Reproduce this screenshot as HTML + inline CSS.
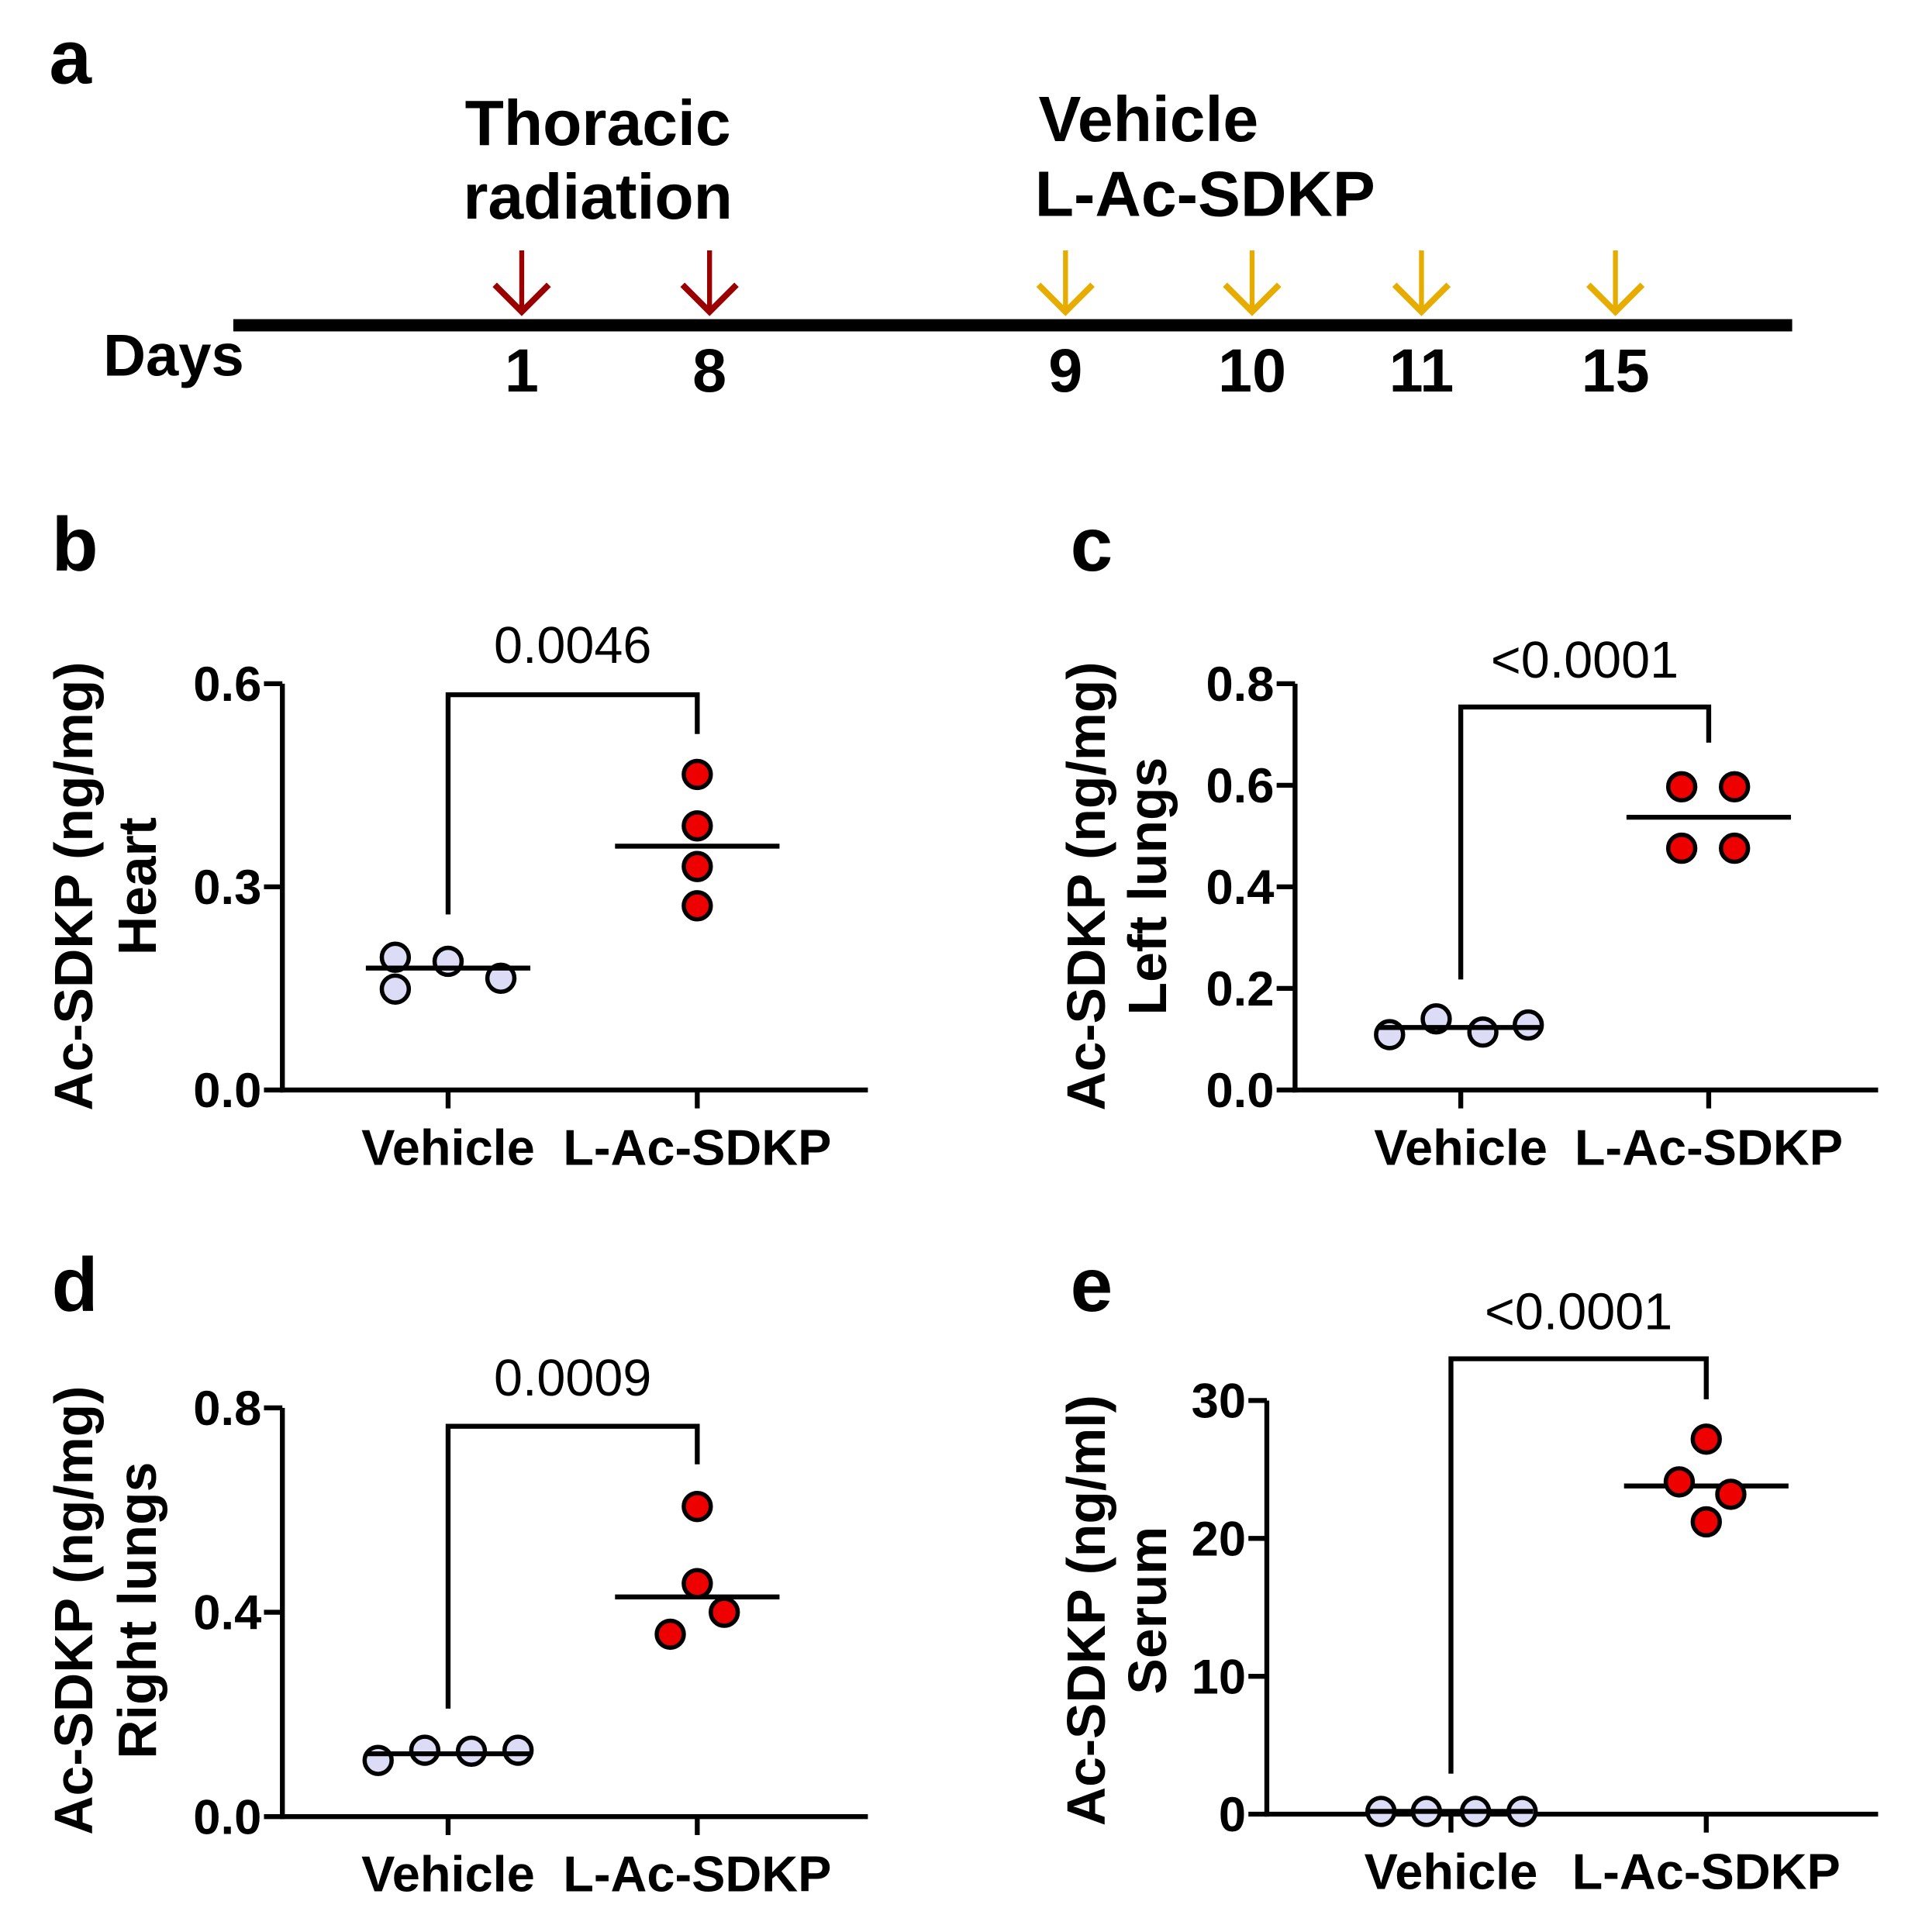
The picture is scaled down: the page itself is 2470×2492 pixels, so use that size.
<!DOCTYPE html>
<html><head><meta charset="utf-8"><style>
html,body{margin:0;padding:0;background:#fff;}
svg{display:block;font-family:"Liberation Sans",Arial,sans-serif;}
</style></head><body>
<svg id="fig" width="2470" height="2492" viewBox="0 0 1560 1574" xmlns="http://www.w3.org/2000/svg">
<g>
<text x="40" y="68" font-size="62" font-weight="bold">a</text>
<text x="487" y="118" font-size="52" font-weight="bold" text-anchor="middle">Thoracic</text>
<text x="487" y="178" font-size="52" font-weight="bold" text-anchor="middle">radiation</text>
<text x="846" y="115" font-size="52" font-weight="bold">Vehicle</text>
<text x="843" y="176" font-size="52" font-weight="bold">L-Ac-SDKP</text>
<rect x="190" y="260" width="1270" height="10" fill="#000"/>
<text x="84" y="306" font-size="48" font-weight="bold">Days</text>
<g id="arrows"></g>
</g>
<g id="panels"></g>
</svg>
<script>
// Timeline data
const dayLabels = ["1","8","9","10","11","15"];
const dayX = [425,578,868,1020,1158,1316];
const dayKind = ["rad","rad","trt","trt","trt","trt"];

// Panel b (Heart)
const bTicks = [0.0,0.3,0.6];
const bVehicle = [0.196,0.149,0.19,0.165];
const bDrug = [0.466,0.39,0.33,0.272];
const bMeans = [0.18,0.36];
// Panel c (Left lungs)
const cTicks = [0.0,0.2,0.4,0.6,0.8];
const cVehicle = [0.109,0.14,0.114,0.128];
const cDrug = [0.597,0.597,0.476,0.476];
const cMeans = [0.123,0.537];
// Panel d (Right lungs)
const dTicks = [0.0,0.4,0.8];
const dVehicle = [0.11,0.13,0.128,0.13];
const dDrug = [0.607,0.456,0.40,0.357];
const dMeans = [0.123,0.43];
// Panel e (Serum)
const eTicks = [0,10,20,30];
const eVehicle = [0.2,0.2,0.2,0.2];
const eDrug = [27.2,24.1,23.2,21.2];
const eMeans = [0.2,23.8];
const categories = ["Vehicle","L-Ac-SDKP"];
const pValues = ["0.0046","<0.0001","0.0009","<0.0001"];

const NS="http://www.w3.org/2000/svg";
function mk(tag,attrs,parent){const e=document.createElementNS(NS,tag);for(const k in attrs)e.setAttribute(k,attrs[k]);parent.appendChild(e);return e;}

const arrows=document.getElementById('arrows');
dayX.forEach((x,i)=>{
  const col=dayKind[i]==="rad"?"#9b0000":"#e6ac00";
  const g=mk('g',{},arrows);
  
  
  mk('line',{x1:x,y1:204,x2:x,y2:252,stroke:col,'stroke-width':4},g);
  mk('polyline',{points:(x-22)+',232 '+x+',254 '+(x+22)+',232',fill:'none',stroke:col,'stroke-width':5},g);
  const t=mk('text',{x:x,y:319,'font-size':50,'font-weight':'bold','text-anchor':'middle'},arrows);
  
  
  t.textContent=dayLabels[i];
});

const panels=document.getElementById('panels');
const cfgs=[
 {id:'b',lx:42,ly:465,ax:230,x1:707,top:557,bot:888,max:0.6,ticks:bTicks,fmt:v=>v.toFixed(1),vx:[322,322,365,408],dx:[568,568,568,568],cx:[365,568],veh:bVehicle,drg:bDrug,means:bMeans,bt:566,bl:745,br:598,p:pValues[0],py:540,t1:'Ac-SDKP (ng/mg)',t2:'Heart',tx1:60,tx2:112,tcy:722},
 {id:'c',lx:872,ly:465,ax:1055,x1:1530,top:557,bot:888,max:0.8,ticks:cTicks,fmt:v=>v.toFixed(1),vx:[1132,1170,1208,1245],dx:[1370,1413,1370,1413],cx:[1190,1392],veh:cVehicle,drg:cDrug,means:cMeans,bt:576,bl:798,br:605,p:pValues[1],py:552,t1:'Ac-SDKP (ng/mg)',t2:'Left lungs',tx1:885,tx2:935,tcy:722},
 {id:'d',lx:42,ly:1068,ax:230,x1:707,top:1147,bot:1480,max:0.8,ticks:dTicks,fmt:v=>v.toFixed(1),vx:[308,346,384,422],dx:[568,568,590,546],cx:[365,568],veh:dVehicle,drg:dDrug,means:dMeans,bt:1162,bl:1392,br:1193,p:pValues[2],py:1137,t1:'Ac-SDKP (ng/mg)',t2:'Right lungs',tx1:60,tx2:112,tcy:1312},
 {id:'e',lx:872,ly:1068,ax:1032,x1:1530,top:1141,bot:1478,max:30,ticks:eTicks,fmt:v=>String(v),vx:[1125,1162,1202,1240],dx:[1390,1368,1410,1390],cx:[1182,1390],veh:eVehicle,drg:eDrug,means:eMeans,bt:1107,bl:1445,br:1140,p:pValues[3],py:1083,t1:'Ac-SDKP (ng/ml)',t2:'Serum',tx1:885,tx2:935,tcy:1312}
];
cfgs.forEach(c=>{
  const g=mk('g',{},panels);
  
  
  const y=v=>c.bot-(v/c.max)*(c.bot-c.top);
  const lab=mk('text',{x:c.lx,y:c.ly,'font-size':62,'font-weight':'bold'},g);
  
  
  lab.textContent=c.id;
  const yax=mk('line',{x1:c.ax,y1:c.top,x2:c.ax,y2:c.bot+2,stroke:'#000','stroke-width':4},g);
  
  
  const xax=mk('line',{x1:c.ax-2,y1:c.bot,x2:c.x1,y2:c.bot,stroke:'#000','stroke-width':4},g);
  
  
  c.ticks.forEach(v=>{
    mk('line',{x1:c.ax-15,y1:y(v),x2:c.ax,y2:y(v),stroke:'#000','stroke-width':4},g);
    const t=mk('text',{x:c.ax-17,y:y(v)+14,'font-size':40,'font-weight':'bold','text-anchor':'end'},g);
    
    
    t.textContent=c.fmt(v);
  });
  c.cx.forEach((x,i)=>{
    mk('line',{x1:x,y1:c.bot,x2:x,y2:c.bot+15,stroke:'#000','stroke-width':4},g);
    const t=mk('text',{x:x,y:c.bot+61,'font-size':41,'font-weight':'bold','text-anchor':'middle'},g);
    
    
    t.textContent=categories[i];
  });
  const br=mk('polyline',{points:c.cx[0]+','+c.bl+' '+c.cx[0]+','+c.bt+' '+c.cx[1]+','+c.bt+' '+c.cx[1]+','+c.br,fill:'none',stroke:'#000','stroke-width':4},g);
  
  
  const pt=mk('text',{x:(c.cx[0]+c.cx[1])/2,y:c.py,'font-size':42,'text-anchor':'middle'},g);
  
  
  pt.textContent=c.p;
  c.veh.forEach((v,i)=>{
    const e=mk('circle',{cx:c.vx[i],cy:y(v),r:11,fill:'#dcdcf6',stroke:'#000','stroke-width':3.5},g);
    
    
  });
  [[c.cx[0],c.means[0],'vehicle-mean-line'],[c.cx[1],c.means[1],'drug-mean-line']].forEach(m=>{
    const l=mk('line',{x1:m[0]-67,y1:y(m[1]),x2:m[0]+67,y2:y(m[1]),stroke:'#000','stroke-width':4},g);
    
    
  });
  c.drg.forEach((v,i)=>{
    const e=mk('circle',{cx:c.dx[i],cy:y(v),r:11,fill:'#ee0000',stroke:'#000','stroke-width':3.5},g);
    
    
  });
  [[c.tx1,c.t1],[c.tx2,c.t2]].forEach((a,i)=>{
    const t=mk('text',{x:0,y:0,transform:'translate('+(a[0]+15)+','+c.tcy+') rotate(-90)','font-size':44,'font-weight':'bold','text-anchor':'middle'},g);
    
    
    t.textContent=a[1];
  });
});
</script>
</body></html>
